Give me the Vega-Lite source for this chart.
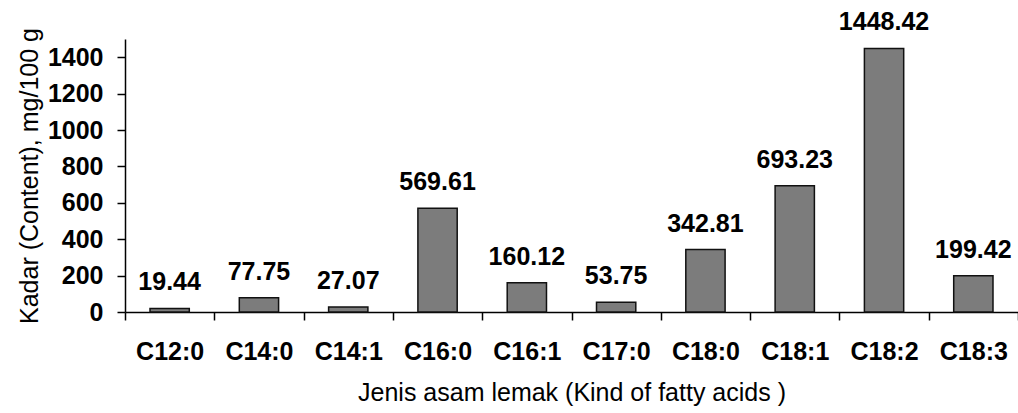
{
  "$schema": "https://vega.github.io/schema/vega-lite/v6.json",
  "autosize": "none",
  "padding": {"left": 125, "top": 39, "right": 0, "bottom": 101},
  "width": 893,
  "height": 273,
  "background": "white",
  "config": {
    "view": {"stroke": null},
    "font": "Liberation Sans",
    "axis": {"grid": false, "domainColor": "#000", "tickColor": "#000", "domainWidth": 1.5, "tickWidth": 1.5, "labelColor": "#000", "titleColor": "#000"}
  },
  "data": {
    "values": [
      {"acid": "C12:0", "value": 19.44},
      {"acid": "C14:0", "value": 77.75},
      {"acid": "C14:1", "value": 27.07},
      {"acid": "C16:0", "value": 569.61},
      {"acid": "C16:1", "value": 160.12},
      {"acid": "C17:0", "value": 53.75},
      {"acid": "C18:0", "value": 342.81},
      {"acid": "C18:1", "value": 693.23},
      {"acid": "C18:2", "value": 1448.42},
      {"acid": "C18:3", "value": 199.42}
    ]
  },
  "encoding": {
    "x": {
      "field": "acid", "type": "nominal", "sort": null,
      "scale": {"paddingInner": 0, "paddingOuter": 0},
      "axis": {
        "title": "Jenis asam lemak (Kind of fatty acids )",
        "labelAngle": 0, "labelFontSize": 25, "labelFontWeight": "bold",
        "tickBand": "extent", "tickSize": 8, "labelPadding": 19,
        "titleFontSize": 25, "titleFontWeight": "normal", "titlePadding": 16
      }
    },
    "y": {
      "field": "value", "type": "quantitative",
      "scale": {"domain": [0, 1500], "nice": false},
      "axis": {
        "title": "Kadar (Content), mg/100 g",
        "values": [0, 200, 400, 600, 800, 1000, 1200, 1400],
        "format": "d",
        "labelFontSize": 25, "labelFontWeight": "bold", "tickSize": 8, "labelPadding": 14,
        "titleFontSize": 25, "titleFontWeight": "normal", "titlePadding": 5
      }
    }
  },
  "layer": [
    {
      "mark": {"type": "bar", "width": {"band": 0.44}, "fill": "#7c7c7c", "stroke": "#111", "strokeWidth": 1.5}
    },
    {
      "mark": {"type": "text", "baseline": "alphabetic", "dy": -18, "fontSize": 25, "fontWeight": "bold", "color": "#000"},
      "encoding": {"text": {"field": "value", "type": "quantitative", "format": ".2f"}}
    }
  ]
}
